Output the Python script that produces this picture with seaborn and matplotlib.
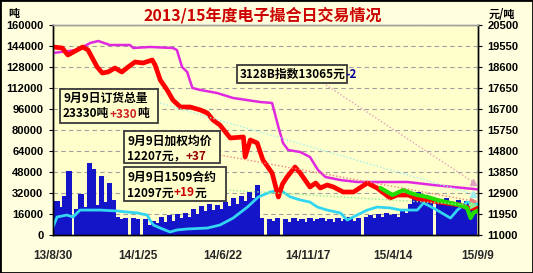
import numpy as np
import pandas as pd
import matplotlib
matplotlib.use("Agg")
import matplotlib.pyplot as plt
import seaborn as sns
from matplotlib.transforms import Affine2D
from matplotlib.patches import Rectangle
from matplotlib.lines import Line2D

# ---------------- data (x = days since 2013-08-30) ----------------
x_tick_days = [0, 148, 296, 444, 592, 740]
x_tick_labels = ["13/8/30", "14/1/25", "14/6/22", "14/11/17", "15/4/14", "15/9/9"]
left_ticks = list(range(0, 160001, 16000))
right_ticks = list(range(11000, 20501, 950))

vol_days = list(range(0, 741, 7))
vol = [20000, 26000, 21000, 30000, 49000, 0, 20000, 31000, 21000, 55000,
       50000, 23000, 45000, 25000, 40000, 27000, 14000, 12000, 13000, 0,
       13000, 12000, 0, 12000, 8000, 11000, 9000, 14000, 10000, 15000,
       11000, 16000, 13000, 17000, 14000, 20000, 16000, 22000, 18000, 24000,
       19000, 23000, 20000, 25000, 22000, 28000, 24000, 30000, 26000, 33000,
       28000, 38000, 13000, 0, 12000, 11000, 13000, 0, 12000, 10000,
       13000, 11000, 12000, 10000, 13000, 11000, 12000, 13000, 11000, 12000,
       10000, 13000, 11000, 12000, 14000, 11000, 13000, 0, 14000, 15000,
       13000, 16000, 14000, 17000, 15000, 16000, 14000, 18000, 17000, 24000,
       28000, 33000, 27000, 29000, 25000, 0, 27000, 24000, 28000, 25000,
       22000, 27000, 23000, 26000, 22000, 24000]

order_days = [0, 7, 24, 35, 47, 82, 112, 129, 147, 164, 169, 175, 187, 204, 216,
              234, 269, 291, 314, 339, 358, 379, 396, 414, 431, 448, 461, 478,
              501, 513, 530, 548, 565, 588, 606, 635, 646, 663, 693, 705, 722, 740]
order_qty = [6000, 13700, 15200, 13700, 19000, 19000, 18300, 17500, 16800, 15200,
             11400, 7600, 5300, 2300, 3800, 4600, 5300, 7600, 12900, 21300,
             29000, 32800, 34300, 29000, 26700, 25100, 21300, 19000, 16800, 11400,
             15200, 19000, 21300, 20600, 19000, 19000, 24400, 20600, 12900, 19000,
             25100, 23330]

wavg_days = [0, 16, 26, 42, 52, 61, 77, 86, 96, 108, 120, 131, 143, 157, 173,
             178, 187, 199, 209, 222, 239, 257, 269, 279, 291, 309, 332, 335,
             344, 356, 366, 382, 393, 400, 408, 422, 431, 448, 458, 466, 478, 489,
             506, 524, 548, 565, 588, 600, 619, 635, 658, 684, 710, 724, 740]
wavg_price = [19505, 19460, 19143, 19369, 19505, 19369, 18600, 18329, 18374, 18555,
              18374, 18600, 18826, 18781, 18917, 18691, 18012, 17560, 17107, 16791,
              16791, 16655, 16519, 16203, 15976, 15388, 15434, 14529, 15300, 15162,
              14393, 13805, 12719, 13300, 13624, 14076, 13805, 13171, 13352, 13126,
              13262, 13171, 12945, 12945, 13352, 13126, 12674, 12810, 12810, 12650,
              12550, 12450, 12357, 12221, 12207]

idx_days = [0, 42, 65, 79, 99, 134, 140, 169, 209, 216, 225, 234, 243, 257, 286,
            314, 361, 382, 393, 401, 410, 431, 448, 462, 475, 501, 530, 571, 618,
            663, 698, 740]
idx_price = [19234, 19369, 19686, 19777, 19596, 19596, 19460, 19505, 19460, 19369,
             18600, 18374, 17650, 17560, 17424, 17198, 17017, 16972, 15886, 15162,
             14845, 14755, 14529, 13941, 13624, 13488, 13398, 13398, 13398, 13262,
             13171, 13065]

c1509_days = [571, 592, 611, 623, 635, 653, 670, 693, 710, 722, 728, 733, 740]
c1509_price = [13126, 12810, 13036, 12900, 12810, 12719, 12583, 12448, 12357, 12221,
               11769, 12000, 12097]

title = "2013/15年度电子撮合日交易情况"

# ---------------- style ----------------
sns.set_theme(style="white")
plt.rcParams['font.family'] = ['Noto Sans CJK SC', 'DejaVu Sans']

W, H = 533, 273
fig = plt.figure(figsize=(W / 100, H / 100), dpi=100)
fig.patch.set_facecolor('#FFFFE0')
PIX = Affine2D().scale(1, -1).translate(0, H)

ax = fig.add_axes([53 / W, 1 - 235 / H, 425 / W, 210 / H])
ax.set_facecolor('#FFFFCC')
ax2 = ax.twinx()
ax2.patch.set_visible(False)

vol_df = pd.DataFrame({"day": vol_days, "vol": vol})
sns.barplot(data=vol_df, x="day", y="vol", native_scale=True, width=1.3,
            color='#1414C8', saturation=1.0, linewidth=0, errorbar=None,
            ax=ax, zorder=2)
for p in ax.patches:
    p.set_antialiased(False)
sns.lineplot(x=order_days, y=order_qty, color='#33D6F0', linewidth=2.0,
             ax=ax, legend=False, zorder=3)

ax.set_xlim(0, 741)
ax.set_ylim(0, 160000)
ax.set_yticks(left_ticks)
ax.set_yticklabels([str(v) for v in left_ticks], family='Liberation Sans',
                   fontweight='bold', fontsize=8)
ax.set_xticks(x_tick_days)
ax.set_xticklabels(x_tick_labels, family='Liberation Sans', fontweight='bold', fontsize=8.5)
ax.set_xlabel('')
ax.set_ylabel('')
for yv in left_ticks[1:]:
    ax.axhline(yv, color='#A0A0A0', lw=0.8, ls=(0, (4, 3)), zorder=1)

sns.lineplot(x=idx_days, y=idx_price, color='#E028E0', linewidth=1.8,
             ax=ax2, legend=False)
sns.lineplot(x=wavg_days, y=wavg_price, color='#FF0000', linewidth=3.4,
             ax=ax2, legend=False)
sns.lineplot(x=c1509_days, y=c1509_price, color='#22DD00', linewidth=3.0,
             ax=ax2, legend=False)
ax2.set_ylim(11000, 20500)
ax2.set_yticks(right_ticks)
ax2.set_yticklabels([str(v) for v in right_ticks], family='Liberation Sans',
                    fontweight='bold', fontsize=8)
ax2.set_ylabel('')
ax2.set_xlim(0, 741)

for a in (ax, ax2):
    a.tick_params(axis='y', length=3, width=0.8, colors='black', pad=4)
    a.tick_params(axis='x', length=0, pad=11)
    for s in a.spines.values():
        s.set_color('black')
        s.set_linewidth(1.0)
    a.spines['top'].set_color('#A0A0A0')

leaders = [((160, 103), (473, 194), '#A0F0F0', '^'),
           ((220, 155), (473, 201), '#F08080', '>'),
           ((226, 190), (473, 205), '#90F090', '>'),
           ((323, 83), (473, 182), '#E0A0C0', '^')]
for (x0, y0), (x1, y1), col, mk in leaders:
    fig.add_artist(Line2D([x0, x1], [y0, y1], transform=PIX, color=col,
                          lw=1.0, ls=(0, (1, 1.5)), zorder=5))
    fig.add_artist(Line2D([x1], [y1], transform=PIX, color=col, marker=mk,
                          markersize=4, lw=0, zorder=5))

renderer = fig.canvas.get_renderer()


def box(x0, y0, x1, y1):
    fig.add_artist(Rectangle((x0, y0), x1 - x0, y1 - y0, transform=PIX,
                             facecolor='#FFFFCC', edgecolor='#3A3A3A', lw=1.3, zorder=6))


def pieces(x, y, parts, size=8.5):
    cx = x
    for s, c in parts:
        t = fig.text(cx, y, s, transform=PIX, color=c, fontsize=size,
                     fontweight='bold', ha='left', va='center', zorder=7)
        cx += t.get_window_extent(renderer).width


box(60, 89, 158, 123)
pieces(63, 98, [("9月9日订货总量", 'black')])
pieces(63, 114, [("23330吨", 'black'), ("+330", '#CC2222'), ("吨", 'black')])

box(124, 131, 220, 163)
pieces(127, 141, [("9月9日加权均价", 'black')])
pieces(127, 156, [("12207元，", 'black'), ("+37", '#990000')])

box(124, 167, 226, 201)
pieces(127, 177, [("9月9日1509合约", 'black')])
pieces(127, 193, [("12097元", 'black'), ("+19", '#CC0000'), ("元", 'black')])

box(237, 65, 347, 83)
pieces(240, 74, [("3128B指数13065元", 'black'), ("-2", '#000099')])

fig.text(263, 15, title, transform=PIX, color='#CC0000', fontsize=11.5,
         fontweight='bold', ha='center', va='center')
fig.text(14, 14, "吨", transform=PIX, color='black', fontsize=8,
         fontweight='bold', ha='center', va='center')
fig.text(502, 14, "元/吨", transform=PIX, color='black', fontsize=8,
         fontweight='bold', ha='center', va='center')

fig.add_artist(Rectangle((0, 0), 1, 1, transform=fig.transFigure, fill=False,
                         edgecolor='black', lw=2))

fig.savefig("out.png", dpi=100, facecolor=fig.get_facecolor())
